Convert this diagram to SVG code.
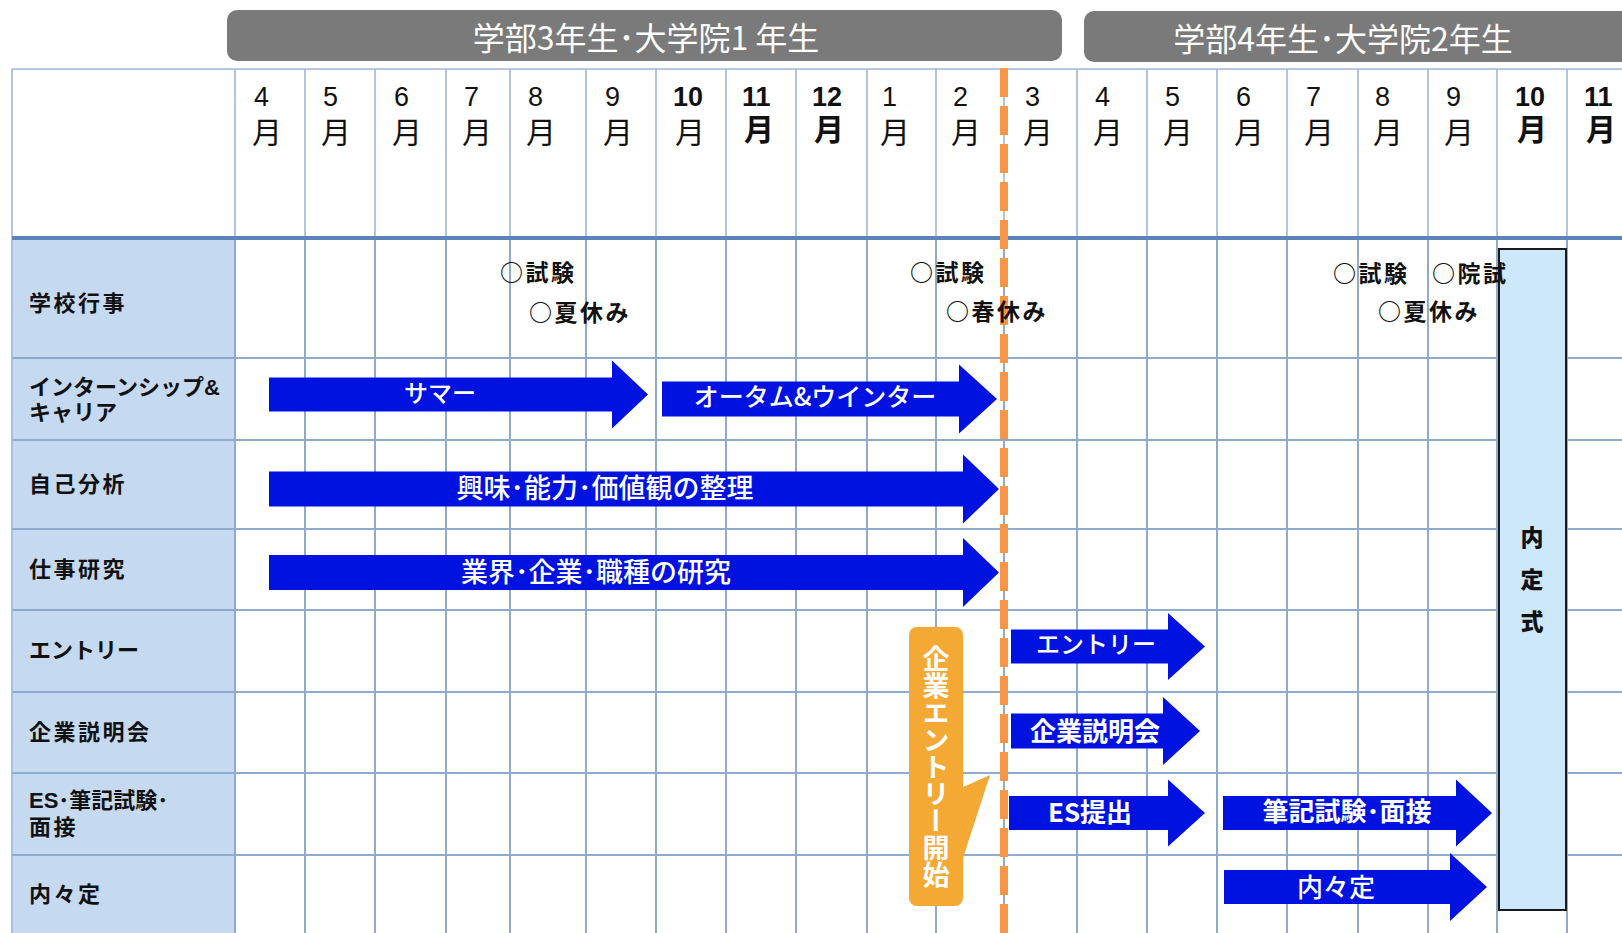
<svg xmlns="http://www.w3.org/2000/svg" width="1622" height="933" viewBox="0 0 1622 933">
<defs>
<style>
.grid{stroke:#8FAACC;stroke-width:2;fill:none}
.hgrid{stroke:#9DB7D8;stroke-width:1.6;fill:none}
.thick{stroke:#5A84B8;stroke-width:4}
.hdr{fill:#7A7A7A}
.hdrtxt{font-family:"Noto Sans CJK JP","Noto Sans",sans-serif;font-size:32px;fill:#FFFFFF;text-anchor:middle}
.mt{font-family:"Liberation Sans","Noto Sans CJK JP",sans-serif;fill:#111}
.num{font-size:27px}
.mon{font-size:30px}
.b{font-weight:700}
.lbl{font-family:"Liberation Sans","Noto Sans CJK JP",sans-serif;font-size:22px;font-weight:700;fill:#111}
.kl{letter-spacing:2.5px}
.evt{font-family:"Noto Sans CJK JP",sans-serif;font-size:23px;font-weight:700;fill:#111;letter-spacing:2.5px}
.arr{fill:#0012E0}
.at{font-family:"Noto Sans CJK JP",sans-serif;font-size:24px;font-weight:500;fill:#FFFFFF;text-anchor:middle}
.atb{font-family:"Noto Sans CJK JP",sans-serif;font-size:26px;font-weight:700;fill:#FFFFFF;text-anchor:middle}
.nt{font-family:"Noto Sans CJK JP",sans-serif;font-size:23px;font-weight:900;fill:#111;text-anchor:middle}
</style>
</defs>
<rect x="0" y="0" width="1622" height="933" fill="#FFFFFF"/>

<g id="year-headers">
<g id="year1"><rect class="hdr" x="227" y="10" width="835" height="51" rx="10"/><text class="hdrtxt" x="646" y="50">学部3年生･大学院1 年生</text></g>
<g id="year2"><rect class="hdr" x="1084" y="11" width="560" height="51" rx="10"/><text class="hdrtxt" x="1343" y="51">学部4年生･大学院2年生</text></g>
</g>

<g id="table">
<rect x="12" y="238" width="223" height="695" fill="#C5D9F1"/>
<g class="hgrid">
<line x1="12" y1="69" x2="1622" y2="69"/>
<line x1="12" y1="69" x2="12" y2="933"/>
<line x1="235" y1="69" x2="235" y2="238"/>
<line x1="305" y1="69" x2="305" y2="238"/>
<line x1="375" y1="69" x2="375" y2="238"/>
<line x1="446" y1="69" x2="446" y2="238"/>
<line x1="510" y1="69" x2="510" y2="238"/>
<line x1="586" y1="69" x2="586" y2="238"/>
<line x1="656" y1="69" x2="656" y2="238"/>
<line x1="726" y1="69" x2="726" y2="238"/>
<line x1="796" y1="69" x2="796" y2="238"/>
<line x1="867" y1="69" x2="867" y2="238"/>
<line x1="936" y1="69" x2="936" y2="238"/>
<line x1="1004" y1="69" x2="1004" y2="238"/>
<line x1="1077" y1="69" x2="1077" y2="238"/>
<line x1="1147" y1="69" x2="1147" y2="238"/>
<line x1="1217" y1="69" x2="1217" y2="238"/>
<line x1="1287" y1="69" x2="1287" y2="238"/>
<line x1="1358" y1="69" x2="1358" y2="238"/>
<line x1="1428" y1="69" x2="1428" y2="238"/>
<line x1="1497" y1="69" x2="1497" y2="238"/>
<line x1="1567" y1="69" x2="1567" y2="238"/>
</g>
<g class="grid">
<line x1="235" y1="238" x2="235" y2="933"/>
<line x1="305" y1="238" x2="305" y2="933"/>
<line x1="375" y1="238" x2="375" y2="933"/>
<line x1="446" y1="238" x2="446" y2="933"/>
<line x1="510" y1="238" x2="510" y2="933"/>
<line x1="586" y1="238" x2="586" y2="933"/>
<line x1="656" y1="238" x2="656" y2="933"/>
<line x1="726" y1="238" x2="726" y2="933"/>
<line x1="796" y1="238" x2="796" y2="933"/>
<line x1="867" y1="238" x2="867" y2="933"/>
<line x1="936" y1="238" x2="936" y2="933"/>
<line x1="1004" y1="238" x2="1004" y2="933"/>
<line x1="1077" y1="238" x2="1077" y2="933"/>
<line x1="1147" y1="238" x2="1147" y2="933"/>
<line x1="1217" y1="238" x2="1217" y2="933"/>
<line x1="1287" y1="238" x2="1287" y2="933"/>
<line x1="1358" y1="238" x2="1358" y2="933"/>
<line x1="1428" y1="238" x2="1428" y2="933"/>
<line x1="1497" y1="238" x2="1497" y2="933"/>
<line x1="1567" y1="238" x2="1567" y2="933"/>
<line x1="12" y1="358" x2="1622" y2="358"/>
<line x1="12" y1="440" x2="1622" y2="440"/>
<line x1="12" y1="529" x2="1622" y2="529"/>
<line x1="12" y1="610" x2="1622" y2="610"/>
<line x1="12" y1="692" x2="1622" y2="692"/>
<line x1="12" y1="773" x2="1622" y2="773"/>
<line x1="12" y1="855" x2="1622" y2="855"/>
</g>
<line class="thick" x1="12" y1="238" x2="1622" y2="238"/>
</g>

<g id="months">
<text class="mt"><tspan class="num" x="254" y="106">4</tspan><tspan class="mon" x="252" y="143">月</tspan></text>
<text class="mt"><tspan class="num" x="323" y="106">5</tspan><tspan class="mon" x="321" y="143">月</tspan></text>
<text class="mt"><tspan class="num" x="394" y="106">6</tspan><tspan class="mon" x="392" y="143">月</tspan></text>
<text class="mt"><tspan class="num" x="464" y="106">7</tspan><tspan class="mon" x="462" y="143">月</tspan></text>
<text class="mt"><tspan class="num" x="528" y="106">8</tspan><tspan class="mon" x="526" y="143">月</tspan></text>
<text class="mt"><tspan class="num" x="605" y="106">9</tspan><tspan class="mon" x="603" y="143">月</tspan></text>
<text class="mt"><tspan class="num b" x="673" y="106">10</tspan><tspan class="mon" x="675" y="143">月</tspan></text>
<text class="mt"><tspan class="num b" x="742" y="106">11</tspan><tspan class="mon b" x="744" y="140">月</tspan></text>
<text class="mt"><tspan class="num b" x="812" y="106">12</tspan><tspan class="mon b" x="814" y="140">月</tspan></text>
<text class="mt"><tspan class="num" x="882" y="106">1</tspan><tspan class="mon" x="880" y="143">月</tspan></text>
<text class="mt"><tspan class="num" x="953" y="106">2</tspan><tspan class="mon" x="951" y="143">月</tspan></text>
<text class="mt"><tspan class="num" x="1025" y="106">3</tspan><tspan class="mon" x="1023" y="143">月</tspan></text>
<text class="mt"><tspan class="num" x="1095" y="106">4</tspan><tspan class="mon" x="1093" y="143">月</tspan></text>
<text class="mt"><tspan class="num" x="1165" y="106">5</tspan><tspan class="mon" x="1163" y="143">月</tspan></text>
<text class="mt"><tspan class="num" x="1236" y="106">6</tspan><tspan class="mon" x="1234" y="143">月</tspan></text>
<text class="mt"><tspan class="num" x="1306" y="106">7</tspan><tspan class="mon" x="1304" y="143">月</tspan></text>
<text class="mt"><tspan class="num" x="1375" y="106">8</tspan><tspan class="mon" x="1373" y="143">月</tspan></text>
<text class="mt"><tspan class="num" x="1446" y="106">9</tspan><tspan class="mon" x="1444" y="143">月</tspan></text>
<text class="mt"><tspan class="num b" x="1515" y="106">10</tspan><tspan class="mon b" x="1517" y="140">月</tspan></text>
<text class="mt"><tspan class="num b" x="1584" y="106">11</tspan><tspan class="mon b" x="1586" y="140">月</tspan></text>
</g>

<g id="row-labels">
<text class="lbl kl" x="29" y="311">学校行事</text>
<text class="lbl"><tspan x="29" y="395">インターンシップ&amp;</tspan><tspan x="29" y="420">キャリア</tspan></text>
<text class="lbl kl" x="29" y="492">自己分析</text>
<text class="lbl kl" x="29" y="577">仕事研究</text>
<text class="lbl" x="29" y="658">エントリー</text>
<text class="lbl kl" x="29" y="740">企業説明会</text>
<text class="lbl"><tspan x="29" y="808">ES･筆記試験･</tspan><tspan class="kl" x="29" y="835">面接</tspan></text>
<text class="lbl kl" x="29" y="902">内々定</text>
</g>

<g id="connectors">
<line x1="1004" y1="68" x2="1004" y2="933" stroke="#F79646" stroke-width="8" stroke-dasharray="29 9"/>
</g>

<g id="arrow-summer"><polygon class="arr" points="269,377.5 612,377.5 612,360.5 648,394.5 612,428.5 612,411.5 269,411.5"/><text class="at" x="440" y="402">サマー</text></g>
<g id="arrow-autumn"><polygon class="arr" points="662,381.5 959,381.5 959,364.5 997,399 959,433.5 959,416.5 662,416.5"/><text class="at" x="815" y="406" style="font-size:25px">オータム&amp;ウインター</text></g>
<g id="arrow-self"><polygon class="arr" points="269,471.5 963,471.5 963,454.5 999,489 963,523.5 963,506.5 269,506.5"/><text class="at" x="605" y="498" style="font-size:27px">興味･能力･価値観の整理</text></g>
<g id="arrow-work"><polygon class="arr" points="269,555 963,555 963,538 999,572.5 963,607 963,590 269,590"/><text class="at" x="596" y="582" style="font-size:27px">業界･企業･職種の研究</text></g>
<g id="arrow-entry"><polygon class="arr" points="1011,629.5 1168,629.5 1168,613 1205,646.5 1168,680 1168,663.5 1011,663.5"/><text class="at" x="1096" y="653">エントリー</text></g>
<g id="arrow-seminar"><polygon class="arr" points="1011,713.5 1163,713.5 1163,697 1200,731 1163,765 1163,748.5 1011,748.5"/><text class="atb" x="1095" y="741">企業説明会</text></g>
<g id="arrow-es"><polygon class="arr" points="1009,796 1168,796 1168,779.5 1205,813 1168,846.5 1168,830 1009,830"/><text class="atb" x="1090" y="822">ES提出</text></g>
<g id="arrow-exam"><polygon class="arr" points="1223,796 1456,796 1456,779.5 1492,813 1456,846.5 1456,830 1223,830"/><text class="atb" x="1347" y="821">筆記試験･面接</text></g>
<g id="arrow-naitei"><polygon class="arr" points="1224,870 1450,870 1450,853 1487,887 1450,921 1450,904 1224,904"/><text class="at" x="1336" y="897" style="font-size:26px">内々定</text></g>

<g id="callout">
<rect x="909" y="627" width="54" height="279" rx="8" fill="#F5A935"/>
<polygon points="961,788 990,775 963,858" fill="#F5A935"/>
<text x="936" y="645" style="writing-mode:vertical-rl;font-family:'Noto Sans CJK JP',sans-serif;font-size:27px;font-weight:700;fill:#FFFFFF">企業エントリー開始</text>
</g>

<g id="naiteishiki">
<rect x="1499" y="249" width="67" height="661" fill="#CCE8FA" stroke="#1A1A1A" stroke-width="2"/>
<text class="nt"><tspan x="1532" y="546">内</tspan><tspan x="1532" y="588">定</tspan><tspan x="1532" y="630">式</tspan></text>
</g>

<g id="events">
<text class="evt" x="500" y="281">○試験</text>
<text class="evt" x="529" y="321">○夏休み</text>
<text class="evt" x="910" y="281">○試験</text>
<text class="evt" x="946" y="320">○春休み</text>
<text class="evt" x="1333" y="282">○試験</text>
<text class="evt" x="1432" y="282">○院試</text>
<text class="evt" x="1378" y="320">○夏休み</text>
</g>
</svg>
